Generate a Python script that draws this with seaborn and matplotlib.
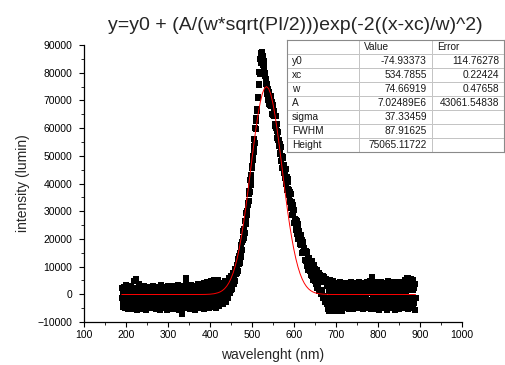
# Gaussian fit of an emission band: raw scatter + fitted curve + parameter table.
import numpy as np
import matplotlib
matplotlib.use('Agg')
import matplotlib.pyplot as plt
from matplotlib.table import Table
from matplotlib.ticker import MultipleLocator
import seaborn as sns


# ── Data ──────────────────────────────────────────────────────────────────────
WAVELENGTH = np.arange(190, 891)   # 1 nm steps, 190 .. 890 nm

INTENSITY = [
    # 190 - 429 : baseline
    -1200, 2100, -3400, 800, -4600, -300, 2700, -2200, -5100, 1400, -800, 3200, -3900, 400, -1700, -5300, 2300, -600, -2800, 1000,
    -4200, 1800, -1500, 3000, -5400, -200, -2500, 2400, -3600, 700, 4800, -1100, -4700, 1500, 5500, -2900, 300, -5800, 2000, -1400,
    3800, -3200, -600, 1200, -4900, 2600, -1900, -3700, 900, -5200, 1700, -1000, -2600, 2900, -4400, -100, 1300, -3100, -5600, 600,
    -2000, 2200, -4000, -700, 1600, -5000, -2300, 2500, -3300, 500, -1300, -4800, 1900, -2700, 3100, -600, -4300, 1100, -3800, -200,
    2400, -5300, -1600, 800, -3500, 2800, -900, -4500, 1400, -2400, -5700, 2000, -300, -3000, 3300, -1800, -4100, 700, -2600, 1800,
    -5000, -800, 2600, -3900, 300, -2100, 1500, -5500, -1200, 2900, -3400, 600, -4600, -1500, 2200, -2800, 1000, -5200, -400, 3000,
    -3600, 1300, -2300, -4900, 2500, -700, -3100, 1700, -5400, 200, 2700, -1900, -4200, 1100, -2700, 3200, -600, -5600, 1600, -3300,
    -1100, 2300, -4400, -7200, -5900, 900, -2000, 3100, -3700, 400, 2000, -1600, 6000, 4200, -5100, -900, 1800, -3000, 2800, -4700,
    -300, 1500, -2500, -5300, 2400, -1400, 3500, -3800, 600, -4500, -1000, 2700, -3200, 1200, -5500, -500, 3000, -2200, -4000, 1700,
    -1700, 3600, -4800, 400, -2900, 2100, -1300, -5000, 1900, -3500, 3300, -200, -4300, 1000, -2400, 4000, -1000, -5400, 2600, -3000,
    3800, -1500, -4200, 1400, 4600, -2600, -500, -5100, 2900, 4300, -3400, 800, -1800, 4900, -4600, 1600, 3400, -2800, -700, 4400,
    5300, -3700, 2000, -1200, 4700, -5000, 900, 3700, -2300, 5000, -400, -4100, 2500, 4200, -1800, 1200, -3300, 3900, 500, -2200,
    # 430 - 540 : rising edge and peak
    -2500, 1900, -3600, 3300, -800, 4700, -2200, 2400, -2900, 4700,
    -600, 4000, -1500, 2600, -300, 5800, 1100, 4700, 300, 4400,
    1600, 6500, 3300, 1900, 6500, 3800, 7700, 3700, 6900, 4900,
    9000, 4800, 9000, 7400, 10700, 7600, 10800, 8300, 12800, 10900,
    14000, 11300, 14900, 13600, 17900, 15500, 19000, 16100, 20300, 19500,
    22900, 20500, 23700, 22000, 26400, 25200, 29200, 26600, 30200, 28500,
    32800, 32100, 36100, 33600, 37300, 36800, 41200, 39300, 43200, 41600,
    46400, 45700, 49900, 48500, 53400, 51400, 55900, 54700, 59900, 59500,
    63800, 62600, 66900, 66300, 71300, 71000, 75900, 75400, 80100, 79500,
    84800, 83500, 87100, 84800, 87300, 83900, 86200, 82900, 84400, 80600,
    82500, 78700, 79900, 76000, 77700, 74200, 76100, 72300, 74200, 70100, 72400,
    # 541 - 679 : falling edge and tail
    73200, 68800, 71300, 68400, 71600, 67900, 69500, 65000, 67900,
    64600, 68300, 64500, 66200, 61500, 64400, 60700, 64400, 59900, 61600,
    56500, 59000, 55800, 58500, 53500, 55700, 51000, 54400, 50600, 53100,
    48000, 50100, 45600, 49700, 45800, 49200, 43900, 46500, 42000, 44500,
    41900, 45200, 39900, 42300, 37800, 41800, 38100, 40700, 35900, 37700,
    33600, 36800, 33500, 36300, 31300, 33200, 28600, 32400, 28600, 30300,
    25800, 30300, 25600, 27300, 23300, 27000, 24000, 26600, 21800, 24300,
    20000, 25200, 20400, 22900, 18200, 21000, 17800, 21500, 17800, 19500,
    15000, 19000, 15400, 18900, 14900, 16800, 12400, 15500, 12100, 15700,
    12000, 15300, 10200, 12800, 8900, 12900, 9700, 13100, 8400, 11200,
    7100, 11600, 7900, 12000, 6600, 9800, 5300, 10600, 6100, 8300,
    4700, 9200, 3600, 8000, 4300, 8700, 2300, 6600, 2900, 7600,
    1200, 6600, 1600, 7000, 0, 5200, 200, 6500, 1400, 6500,
    -1400, 4400, -500, 6100, -2600, 4300, -1900, 5400, -3600, 2900,
    # 680 - 890 : baseline
    -2400, 4600, -5200, 1300, -6000, 3800, -1500, 5200, -4300, 700, -5600, 2600, -2200, 4800, -6100, 1500, -3300, 4100, -800, -5400,
    2900, -3800, 500, -6200, 3600, -1900, -4700, 2100, -600, 4400, -5500, 1200, -2900, 3300, -6000, -300, 2600, -4300, 1700, -2100,
    3800, -5000, 900, -2700, 4200, -1300, -4600, 2400, -3500, 600, 3500, -5200, -1000, 2900, -3900, 1400, -2400, 4500, -4800, 300,
    -1800, 3100, -5300, 1900, -3000, 4000, -600, -4400, 2700, -2000, 900, -5100, 3600, -1500, -3600, 2200, 4300, -4900, 100, -2600,
    3400, -4100, 1600, -1200, -5400, 2800, -2200, 4100, -3300, 700, -4700, 3000, -800, -2900, 1800, 4600, -5000, 1100, -1900, 3700,
    -3700, 500, 4800, -2500, -5200, 2300, 5700, 6200, -1300, 3900, -4400, 1300, -2700, 4500, -600, -5300, 2000, -3100, 3300, -1700,
    -4500, 2700, 800, -5600, 3800, -2300, -500, 4300, -4000, 1500, -2800, 3600, -5100, 600, -1600, 4100, -3400, 2100, -4800, 1000,
    3500, -2100, -5500, 2500, 4700, -3200, -900, 3100, -4600, 1800, -2500, 4600, -5000, 400, 2900, -3700, -1100, 4000, -4200, 1600,
    -2000, 3400, -5700, 2200, -600, 4500, -3300, 1000, -4700, 3700, -1400, -5200, 2600, 4200, -2600, 700, -4100, 3000, -1000, -5000,
    2300, 4600, -3600, 1200, -2200, 5000, -4500, 600, 3900, 5800, -1800, -5400, 2800, 6000, -3000, 1400, 4900, -4200, 3200, -800,
    5600, -2500, 4100, -4900, 1500, 5200, -3300, 2400, -5500, 3700, -1500,
]

# fitted curve, read at 5 nm steps around the band
FIT_X = [190, 380, 390, 400, 410, 420, 425, 430, 435, 440, 445, 450, 455, 460, 465, 470,
         475, 480, 485, 490, 495, 500, 505, 510, 515, 520, 525, 530, 535, 540, 545, 550,
         555, 560, 565, 570, 575, 580, 585, 590, 595, 600, 605, 610, 615, 620, 625, 630,
         635, 640, 645, 650, 660, 670, 680, 690, 890]
FIT_Y = [-75, -61, -34, 36, 206, 590, 919, 1386, 2034, 2916, 4090, 5619, 7574, 10021, 13009, 16574,
         20748, 25500, 30777, 36474, 42464, 48560, 54527, 60142, 65149, 69323, 72453, 74375, 74990, 74262, 72236, 69015,
         64759, 59685, 54032, 48042, 41954, 35986, 30311, 25080, 20373, 16259, 12739, 9796, 7390, 5474, 3976, 2831,
         1971, 1341, 887, 567, 196, 31, -36, -65, -75]

TITLE = 'y=y0 + (A/(w*sqrt(PI/2)))exp(-2((x-xc)/w)^2)'

TABLE_HEADER = ['', 'Value', 'Error']
PARAM_NAMES  = ['y0', 'xc', 'w', 'A', 'sigma', 'FWHM', 'Height']
PARAM_VALUES = ['-74.93373', '534.7855', '74.66919', '7.02489E6', '37.33459', '87.91625', '75065.11722']
PARAM_ERRORS = ['114.76278', '0.22424', '0.47658', '43061.54838', '', '', '']


def draw_param_table(fig):
    """Origin-style parameter box in the upper right corner."""
    tax = fig.add_axes([287 / 505, 1 - 152 / 365, 217 / 505, 112 / 365])
    tax.set_xticks([])
    tax.set_yticks([])
    for s in tax.spines.values():
        s.set_color('#8a8a8a')
        s.set_linewidth(0.8)

    tbl = Table(tax, bbox=[0, 0, 1, 1])
    n_rows = len(PARAM_NAMES) + 1
    h, w = 1.0 / n_rows, 1.0 / 3

    for j, txt in enumerate(TABLE_HEADER):
        tbl.add_cell(0, j, w, h, text=txt, loc='left', edgecolor='#c4c4c4')
    for i, (name, val, err) in enumerate(zip(PARAM_NAMES, PARAM_VALUES, PARAM_ERRORS), start=1):
        tbl.add_cell(i, 0, w, h, text=name, loc='left', edgecolor='#c4c4c4')
        tbl.add_cell(i, 1, w, h, text=val, loc='right', edgecolor='#c4c4c4')
        tbl.add_cell(i, 2, w, h, text=err, loc='right', edgecolor='#c4c4c4')

    tbl.auto_set_font_size(False)
    tbl.set_fontsize(7.3)
    for cell in tbl.get_celld().values():
        cell.set_linewidth(0.7)
        cell.PAD = 0.07
        cell.get_text().set_color('#1a1a1a')
    tax.add_table(tbl)


def main():
    assert len(INTENSITY) == len(WAVELENGTH)

    sns.set_style('ticks')
    plt.rcParams['font.family'] = ['Liberation Sans', 'DejaVu Sans']

    fig = plt.figure(figsize=(5.05, 3.65), dpi=100)
    ax = fig.add_axes([84 / 505, 1 - 322 / 365, 377.7 / 505, 277 / 365])

    sns.scatterplot(x=WAVELENGTH, y=INTENSITY, marker='s', s=14, color='black',
                    linewidth=0, ax=ax, zorder=2)
    sns.lineplot(x=FIT_X, y=FIT_Y, color='#ff0000', linewidth=0.7, ax=ax, zorder=3)

    ax.set_xlim(100, 1000)
    ax.set_ylim(-10000, 90000)
    ax.xaxis.set_major_locator(MultipleLocator(100))
    ax.xaxis.set_minor_locator(MultipleLocator(50))
    ax.yaxis.set_major_locator(MultipleLocator(10000))
    ax.yaxis.set_minor_locator(MultipleLocator(5000))

    sns.despine(ax=ax)
    for side in ('left', 'bottom'):
        ax.spines[side].set_linewidth(0.9)
        ax.spines[side].set_color('black')
    ax.tick_params(which='major', direction='out', length=3.5, width=0.8,
                   labelsize=7.5, colors='black')
    ax.tick_params(which='minor', direction='out', length=2, width=0.7)
    ax.tick_params(axis='x', which='major', pad=2.5)
    ax.tick_params(axis='y', which='major', pad=5)

    ax.set_xlabel('wavelenght (nm)', fontsize=10)
    ax.set_ylabel('intensity (lumin)', fontsize=10)
    ax.xaxis.set_label_coords(0.5, -0.095)
    ax.yaxis.set_label_coords(-0.142, 0.5)

    fig.text(295 / 505, 1 - 30 / 365, TITLE, ha='center', va='baseline', fontsize=14)

    draw_param_table(fig)

    fig.savefig('out.png', dpi=100)
    plt.close(fig)


if __name__ == '__main__':
    main()
